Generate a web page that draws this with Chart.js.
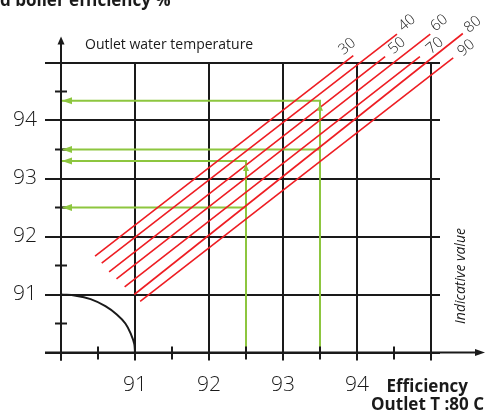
<!DOCTYPE html>
<html><head><meta charset="utf-8">
<script src="https://cdn.jsdelivr.net/npm/chart.js@4.4.0/dist/chart.umd.min.js"></script>
<style>html,body{margin:0;padding:0;background:#fff}canvas{display:block}</style>
</head><body>
<canvas id="c" width="487" height="414"></canvas>
<script>
// ---- data ----
const xTickValues = [90, 91, 92, 93, 94, 95];
const xTickLabels = ['', '91', '92', '93', '94', ''];
const yTickValues = [90, 91, 92, 93, 94, 95];
const yTickLabels = ['', '91', '92', '93', '94', ''];
const minorTicks = [90.5, 91.5, 92.5, 93.5, 94.5];
const tempLabels = ['30', '40', '50', '60', '70', '80', '90'];
const tempLineStart = [[90.46, 91.66], [90.55, 91.54], [90.65, 91.39], [90.75, 91.27], [90.86, 91.13], [90.99, 91.00], [91.07, 90.88]];
const tempLineEnd = [[93.95, 95.12], [94.54, 95.49], [94.38, 95.10], [94.99, 95.49], [94.85, 95.10], [95.43, 95.50], [95.30, 95.08]];
const greenPaths = [
  [[92.5, 90], [92.5, 93.3], [90, 93.3]],
  [[92.5, 92.5], [90, 92.5]],
  [[93.5, 90], [93.5, 94.34], [90, 94.34]],
  [[93.5, 93.5], [90, 93.5]]
];
const curveX = [90, 90.2, 90.4, 90.6, 90.75, 90.87, 90.95, 90.99, 91];
const curveY = [91, 90.98, 90.92, 90.8, 90.66, 90.5, 90.3, 90.15, 90];

// ---- style ----
const INK = '#1a1a1a', RED = '#ee1d23', GREEN = '#8dc63f';
const FONT = '"Open Sans", "DejaVu Sans", sans-serif';
const labelOffsets = [[-6, -9], [10, -11], [12, -11], [9, -11], [15, -11], [10, -9], [13, -10]];

const datasets = [];
tempLabels.forEach((l, i) => {
  datasets.push({
    label: l,
    data: [{x: tempLineStart[i][0], y: tempLineStart[i][1]}, {x: tempLineEnd[i][0], y: tempLineEnd[i][1]}],
    borderColor: RED, borderWidth: 1.6, showLine: true, pointRadius: 0, clip: false
  });
});
greenPaths.forEach(p => {
  datasets.push({
    data: p.map(([x, y]) => ({x, y})),
    borderColor: GREEN, borderWidth: 2, showLine: true, pointRadius: 0, clip: false
  });
});
datasets.push({
  data: curveX.map((x, i) => ({x, y: curveY[i]})),
  borderColor: INK, borderWidth: 2, showLine: true, pointRadius: 0, tension: 0.4, clip: false
});

function tri(ctx, pts) {
  ctx.beginPath(); ctx.moveTo(pts[0][0], pts[0][1]);
  ctx.lineTo(pts[1][0], pts[1][1]); ctx.lineTo(pts[2][0], pts[2][1]);
  ctx.closePath(); ctx.fill();
}

const decor = {
  id: 'decor',
  beforeDatasetsDraw(chart) {
    const {ctx, scales: {x, y}} = chart;
    ctx.save(); ctx.strokeStyle = INK; ctx.lineWidth = 2;
    yTickValues.forEach(v => {
      const py = Math.round(y.getPixelForValue(v)) ;
      ctx.beginPath(); ctx.moveTo(x.right - 1, py); ctx.lineTo(x.right + 9, py); ctx.stroke();
    });
    ctx.restore();
  },
  afterDatasetsDraw(chart) {
    const {ctx, scales: {x, y}} = chart;
    const x0 = x.getPixelForValue(90), y0 = y.getPixelForValue(90);
    ctx.save();
    ctx.strokeStyle = INK; ctx.fillStyle = INK; ctx.lineWidth = 2;
    // axes
    ctx.beginPath(); ctx.moveTo(x0, y0 + 8); ctx.lineTo(x0, y.top - 19); ctx.stroke();
    tri(ctx, [[x0, y.top - 26], [x0 - 3.5, y.top - 18], [x0 + 3.5, y.top - 18]]);
    ctx.beginPath(); ctx.moveTo(x.left - 16, y0); ctx.lineTo(x.right + 45, y0); ctx.stroke();
    tri(ctx, [[x.right + 54, y0], [x.right + 44, y0 - 3.5], [x.right + 44, y0 + 3.5]]);
    // minor ticks
    minorTicks.forEach(v => {
      const py = y.getPixelForValue(v);
      ctx.beginPath(); ctx.moveTo(x0 - 6, py); ctx.lineTo(x0 + 6, py); ctx.stroke();
      const px = x.getPixelForValue(v);
      ctx.beginPath(); ctx.moveTo(px, y0 - 6); ctx.lineTo(px, y0 + 7); ctx.stroke();
    });
    // green arrowheads
    ctx.fillStyle = GREEN;
    greenPaths.forEach(p => {
      const end = p[p.length - 1];
      const ex = x.getPixelForValue(end[0]), ey = y.getPixelForValue(end[1]);
      tri(ctx, [[ex + 1, ey], [ex + 11, ey - 3.5], [ex + 11, ey + 3.5]]);
      if (p.length === 3) {
        const c = p[1];
        const cx = x.getPixelForValue(c[0]), cy = y.getPixelForValue(c[1]);
        tri(ctx, [[cx, cy + 3], [cx - 3, cy + 10], [cx + 3, cy + 10]]);
      }
    });
    // temperature labels
    ctx.fillStyle = INK;
    ctx.font = '300 15px ' + FONT;
    ctx.textAlign = 'center'; ctx.textBaseline = 'middle';
    tempLabels.forEach((l, i) => {
      const px = x.getPixelForValue(tempLineEnd[i][0]) + labelOffsets[i][0];
      const py = y.getPixelForValue(tempLineEnd[i][1]) + labelOffsets[i][1];
      ctx.save(); ctx.translate(px, py); ctx.rotate(-40 * Math.PI / 180);
      ctx.fillText(l, 0, 0); ctx.restore();
    });
    // texts
    ctx.textBaseline = 'alphabetic';
    ctx.textAlign = 'left';
    ctx.font = 'bold 17px ' + FONT;
    ctx.fillText('d boiler efficiency %', 0, 5.5);
    ctx.font = '14px ' + FONT;
    ctx.fillText('Outlet water temperature', 85, 48.5);
    ctx.textAlign = 'right';
    ctx.font = 'bold 17px ' + FONT;
    ctx.fillText('Efficiency', 468, 391.5);
    ctx.fillText('Outlet T :80 C', 484, 410);
    ctx.save(); ctx.translate(465, 276); ctx.rotate(-Math.PI / 2);
    ctx.textAlign = 'center'; ctx.font = 'italic 14px ' + FONT;
    ctx.fillText('Indicative value', 0, 0); ctx.restore();
    ctx.restore();
  }
};

new Chart(document.getElementById('c'), {
  type: 'scatter',
  data: {datasets},
  plugins: [decor],
  options: {
    responsive: false, animation: false,
    layout: {padding: {top: 62.5, right: 56, bottom: 0, left: 0}},
    plugins: {legend: {display: false}, tooltip: {enabled: false}},
    scales: {
      x: {
        type: 'linear', min: 90, max: 95,
        afterBuildTicks: s => { s.ticks = xTickValues.map(v => ({value: v})); },
        afterFit: s => { s.height = 61.5; s.paddingLeft = 0; s.paddingRight = 0; },
        ticks: {callback: (v, i) => xTickLabels[i], autoSkip: false, maxRotation: 0, padding: 12,
                color: INK, font: {family: FONT, size: 21, weight: 300}},
        grid: {color: INK, lineWidth: 2, tickLength: 8, drawTicks: true},
        border: {display: false}
      },
      y: {
        type: 'linear', min: 90, max: 95,
        afterBuildTicks: s => { s.ticks = yTickValues.map(v => ({value: v})); },
        afterFit: s => { s.width = 61; s.paddingTop = 0; s.paddingBottom = 0; },
        ticks: {callback: (v, i) => yTickLabels[i], autoSkip: false, padding: 8,
                color: INK, font: {family: FONT, size: 21, weight: 300}},
        grid: {color: INK, lineWidth: 2, tickLength: 16, drawTicks: true},
        border: {display: false}
      }
    }
  }
});
</script>
</body></html>
